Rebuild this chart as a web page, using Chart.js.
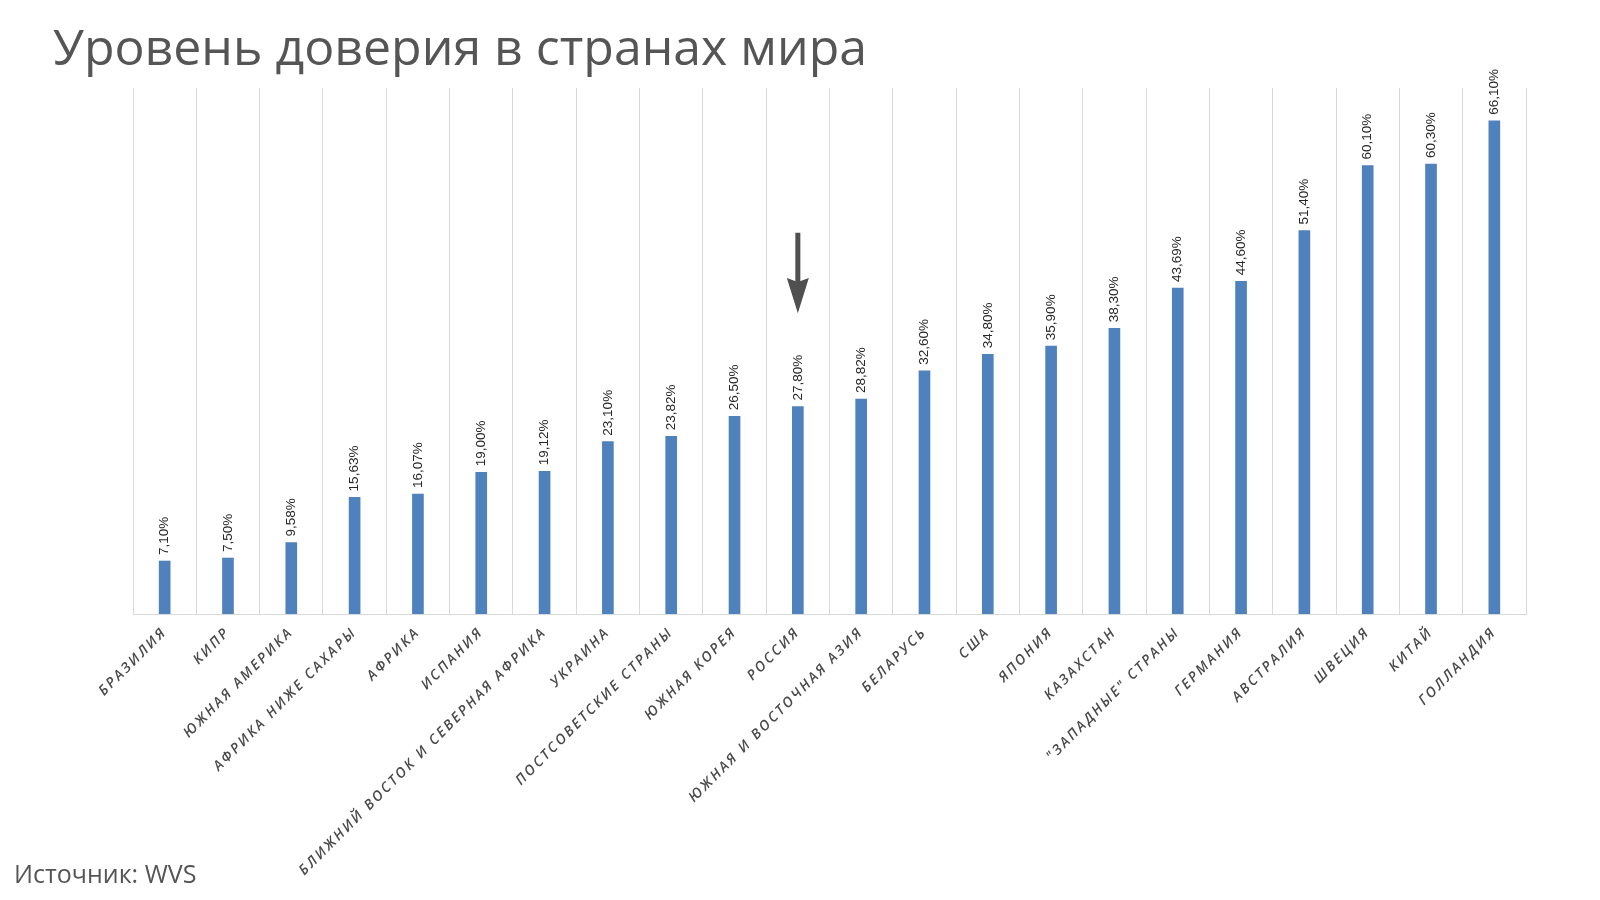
<!DOCTYPE html>
<html lang="ru">
<head>
<meta charset="utf-8">
<title>Уровень доверия в странах мира</title>
<script src="https://cdn.jsdelivr.net/npm/chart.js@4.4.1/dist/chart.umd.min.js"></script>
<style>
    body { margin: 0; background: #fff; }
    #wrap { position: relative; width: 1600px; height: 900px; overflow: hidden; }
    #title {
        position: absolute; left: 53px; top: 21px;
        font-family: "Open Sans", sans-serif; font-size: 50px; line-height: 1;
        color: #555; white-space: nowrap;
    }
    #source {
        position: absolute; left: 14px; top: 861px;
        font-family: "Open Sans", sans-serif; font-size: 25px; line-height: 1;
        color: #555; white-space: nowrap;
    }
</style>
</head>
<body>
<div id="wrap">
    <canvas id="trustChart"></canvas>
    <div id="title">Уровень доверия в странах мира</div>
    <div id="source">Источник: WVS</div>
</div>
<script>
const countries = ["БРАЗИЛИЯ", "КИПР", "ЮЖНАЯ АМЕРИКА", "АФРИКА НИЖЕ САХАРЫ", "АФРИКА", "ИСПАНИЯ",
    "БЛИЖНИЙ ВОСТОК И СЕВЕРНАЯ АФРИКА", "УКРАИНА", "ПОСТСОВЕТСКИЕ СТРАНЫ", "ЮЖНАЯ КОРЕЯ", "РОССИЯ",
    "ЮЖНАЯ И ВОСТОЧНАЯ АЗИЯ", "БЕЛАРУСЬ", "США", "ЯПОНИЯ", "КАЗАХСТАН", "\"ЗАПАДНЫЕ\" СТРАНЫ",
    "ГЕРМАНИЯ", "АВСТРАЛИЯ", "ШВЕЦИЯ", "КИТАЙ", "ГОЛЛАНДИЯ"];
const trust = [7.10, 7.50, 9.58, 15.63, 16.07, 19.00, 19.12, 23.10, 23.82, 26.50, 27.80,
    28.82, 32.60, 34.80, 35.90, 38.30, 43.69, 44.60, 51.40, 60.10, 60.30, 66.10];

// arrow pointing at Russia (values on the y scale)
const arrowCountry = "РОССИЯ";
const arrowFrom = 51.1;
const arrowHead = 44.5;
const arrowTo = 40.3;

const fmt = (v) => v.toFixed(2).replace(".", ",") + "%";

// spaced-out tick labels
const letterSpacing = {
    id: "letterSpacing",
    beforeLayout(chart) { chart.ctx.letterSpacing = "2.4px"; },
    beforeDraw(chart) { chart.ctx.letterSpacing = "2.4px"; }
};

// value labels above the bars, rotated
const barLabels = {
    id: "barLabels",
    afterDatasetsDraw(chart) {
        const ctx = chart.ctx;
        const meta = chart.getDatasetMeta(0);
        ctx.save();
        ctx.letterSpacing = "0px";
        ctx.font = "13.5px 'Liberation Sans', Arial, sans-serif";
        ctx.fillStyle = "#262626";
        ctx.textAlign = "left";
        ctx.textBaseline = "middle";
        meta.data.forEach((bar, i) => {
            ctx.save();
            ctx.translate(bar.x, bar.y - 6);
            ctx.rotate(-Math.PI / 2);
            ctx.fillText(fmt(trust[i]), 0, 0);
            ctx.restore();
        });
        ctx.restore();
    }
};

const arrow = {
    id: "arrow",
    afterDatasetsDraw(chart) {
        const ctx = chart.ctx;
        const x = chart.scales.x.getPixelForValue(countries.indexOf(arrowCountry));
        const y1 = chart.scales.y.getPixelForValue(arrowFrom);
        const y2 = chart.scales.y.getPixelForValue(arrowHead);
        const y3 = chart.scales.y.getPixelForValue(arrowTo);
        ctx.save();
        ctx.fillStyle = "#505050";
        ctx.fillRect(x - 2.5, y1, 5, y2 - y1 + 2);
        ctx.beginPath();
        ctx.moveTo(x - 11, y2 - 4);
        ctx.lineTo(x, y2);
        ctx.lineTo(x + 11, y2 - 4);
        ctx.lineTo(x, y3);
        ctx.closePath();
        ctx.fill();
        ctx.restore();
    }
};

const ctx = document.getElementById("trustChart").getContext("2d");
const trustChart = new Chart(ctx, {
    type: "bar",
    data: {
        labels: countries,
        datasets: [{
            data: trust,
            backgroundColor: "#4f81bd",
            barThickness: 11,
        }],
    },
    options: {
        responsive: true,
        maintainAspectRatio: false,
        animation: false,
        layout: { padding: { left: 133, right: 74, top: 88, bottom: 0 } },
        plugins: {
            legend: { display: false },
            tooltip: { enabled: false },
        },
        scales: {
            x: {
                grid: { color: "#d9d9d9", drawTicks: false, offset: true },
                border: { color: "#d9d9d9" },
                ticks: {
                    autoSkip: false,
                    minRotation: 45,
                    maxRotation: 45,
                    padding: 10,
                    color: "#4a4a4a",
                    font: { family: "'Open Sans', sans-serif", size: 14, style: "italic", weight: "600" },
                },
                afterFit: (scale) => { scale.height = 286; },
            },
            y: {
                display: false,
                min: 0,
                max: 70.5,
            },
        },
    },
    plugins: [letterSpacing, barLabels, arrow],
});
</script>
</body>
</html>
